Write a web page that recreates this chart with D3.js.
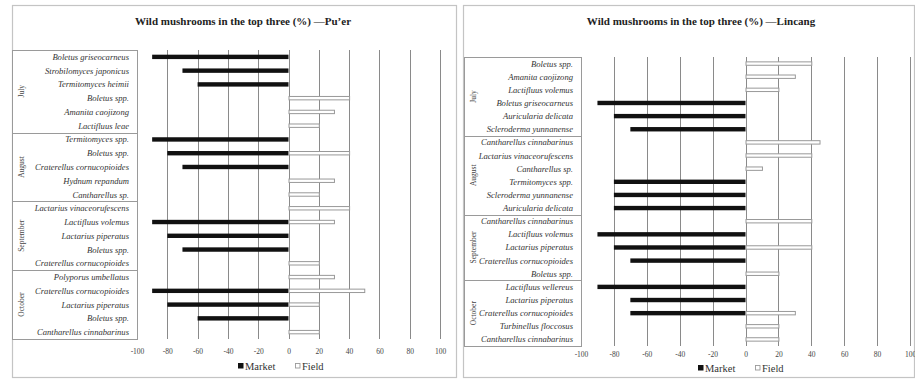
<!DOCTYPE html>
<html>
<head>
<meta charset="utf-8">
<script src="https://cdn.jsdelivr.net/npm/d3@7"></script>
<style>
  html, body { margin: 0; padding: 0; background: #fff; }
  svg { display: block; font-family: "Liberation Serif", "Times New Roman", serif; }
</style>
</head>
<body>
<svg id="chart" width="915" height="380"></svg>
<script>
// Shared axis ticks (percent)
const tickValues = [-100, -80, -60, -40, -20, 0, 20, 40, 60, 80, 100];
const seriesNames = ["Market", "Field"];

// Pu'er: species ranked in the top three per month
const puerMonths = ["July", "August", "September", "October"];
const puerMonthOfRow = [
  "July", "July", "July", "July", "July", "July",
  "August", "August", "August", "August", "August",
  "September", "September", "September", "September", "September",
  "October", "October", "October", "October", "October"
];
const puerSpecies = [
  "Boletus griseocarneus", "Strobilomyces japonicus", "Termitomyces heimii",
  "Boletus spp.", "Amanita caojizong", "Lactifluus leae",
  "Termitomyces spp.", "Boletus spp.", "Craterellus cornucopioides",
  "Hydnum repandum", "Cantharellus sp.",
  "Lactarius vinaceorufescens", "Lactifluus volemus", "Lactarius piperatus",
  "Boletus spp.", "Craterellus cornucopioides",
  "Polyporus umbellatus", "Craterellus cornucopioides", "Lactarius piperatus",
  "Boletus spp.", "Cantharellus cinnabarinus"
];
const puerMarket = [-90, -70, -60, 0, 0, 0, -90, -80, -70, 0, 0, 0, -90, -80, -70, 0, 0, -90, -80, -60, 0];
const puerField  = [0, 0, 0, 40, 30, 20, 0, 40, 0, 30, 20, 40, 30, 0, 0, 20, 30, 50, 20, 0, 20];

// Lincang: species ranked in the top three per month
const lincangMonths = ["July", "August", "September", "October"];
const lincangMonthOfRow = [
  "July", "July", "July", "July", "July", "July",
  "August", "August", "August", "August", "August", "August",
  "September", "September", "September", "September", "September",
  "October", "October", "October", "October", "October"
];
const lincangSpecies = [
  "Boletus spp.", "Amanita caojizong", "Lactifluus volemus",
  "Boletus griseocarneus", "Auricularia delicata", "Scleroderma yunnanense",
  "Cantharellus cinnabarinus", "Lactarius vinaceorufescens", "Cantharellus sp.",
  "Termitomyces spp.", "Scleroderma yunnanense", "Auricularia delicata",
  "Cantharellus cinnabarinus", "Lactifluus volemus", "Lactarius piperatus",
  "Craterellus cornucopioides", "Boletus spp.",
  "Lactifluus vellereus", "Lactarius piperatus", "Craterellus cornucopioides",
  "Turbinellus floccosus", "Cantharellus cinnabarinus"
];
const lincangMarket = [0, 0, 0, -90, -80, -70, 0, 0, 0, -80, -80, -80, 0, -90, -80, -70, 0, -90, -70, -70, 0, 0];
const lincangField  = [40, 30, 20, 0, 0, 0, 45, 40, 10, 0, 0, 0, 40, 0, 40, 0, 20, 0, 0, 30, 20, 20];

const svg = d3.select("#chart");
const FONT = "Liberation Serif, Times New Roman, serif";

function drawPanel(cfg) {
  const g = svg.append("g");
  const rows = cfg.species.map((s, i) => ({
    i, species: s, month: cfg.monthOfRow[i], market: cfg.market[i], field: cfg.field[i]
  }));

  // outer frame
  g.append("rect")
    .attr("x", cfg.frame[0] + 0.5).attr("y", cfg.frame[1] + 0.5)
    .attr("width", cfg.frame[2] - cfg.frame[0]).attr("height", cfg.frame[3] - cfg.frame[1])
    .attr("fill", "none").attr("stroke", "#c4c4c4").attr("stroke-width", 1.2);

  // title
  g.append("text")
    .attr("x", cfg.titleX).attr("y", 25)
    .attr("text-anchor", "middle")
    .attr("font-size", 11).attr("font-weight", "bold").attr("fill", "#222")
    .text(cfg.title);

  const x = d3.scaleLinear().domain([-100, 100]).range([cfg.x0, cfg.x1]);
  const y = d3.scaleBand().domain(rows.map(r => r.i)).range([cfg.y0, cfg.y1]);

  // vertical gridlines
  g.append("g").selectAll("line").data(tickValues).join("line")
    .attr("x1", d => Math.round(x(d)) + 0.5).attr("x2", d => Math.round(x(d)) + 0.5)
    .attr("y1", cfg.y0).attr("y2", cfg.y1)
    .attr("stroke", "#8a8a8a").attr("stroke-width", 1);

  // tick labels along the bottom
  const axis = d3.axisBottom(x).tickValues(tickValues).tickSize(0).tickPadding(0)
    .tickFormat(d => d < 0 ? "-" + Math.abs(d) : String(d));
  const ax = g.append("g").attr("transform", `translate(0,${cfg.tickY})`).call(axis)
    .attr("font-family", FONT);
  ax.select(".domain").remove();
  ax.selectAll("text").attr("font-size", 7.5).attr("fill", "#444").attr("dy", 0);

  const barH = 4.4;
  // market bars (negative side)
  g.append("g").selectAll("rect").data(rows.filter(r => r.market !== 0)).join("rect")
    .attr("x", d => x(d.market)).attr("width", d => x(0) - x(d.market))
    .attr("y", d => y(d.i) + y.bandwidth() / 2 - barH / 2).attr("height", barH)
    .attr("fill", "#111");
  // field bars (positive side, hollow)
  g.append("g").selectAll("rect").data(rows.filter(r => r.field !== 0)).join("rect")
    .attr("x", x(0) + 0.5).attr("width", d => x(d.field) - x(0))
    .attr("y", d => y(d.i) + y.bandwidth() / 2 - barH / 2 + 0.5).attr("height", barH - 1)
    .attr("fill", "#fff").attr("stroke", "#999").attr("stroke-width", 1);

  // category label box
  g.append("rect")
    .attr("x", cfg.boxX + 0.5).attr("y", cfg.y0 + 0.5)
    .attr("width", x(-100) - cfg.boxX).attr("height", cfg.y1 - cfg.y0)
    .attr("fill", "#fff").attr("stroke", "#9a9a9a").attr("stroke-width", 1);

  g.append("g").selectAll("text").data(rows).join("text")
    .attr("x", x(-100) - 8).attr("y", d => y(d.i) + y.bandwidth() / 2)
    .attr("dy", "0.35em").attr("text-anchor", "end")
    .attr("font-size", 8.6).attr("font-style", "italic").attr("fill", "#333")
    .text(d => d.species);

  // month groups: separators and rotated labels
  cfg.months.forEach((m, k) => {
    const idx = rows.filter(r => r.month === m).map(r => r.i);
    const top = y(idx[0]);
    const bottom = y(idx[idx.length - 1]) + y.bandwidth();
    if (k > 0) {
      g.append("line")
        .attr("x1", cfg.boxX).attr("x2", x(-100))
        .attr("y1", Math.round(top) + 0.5).attr("y2", Math.round(top) + 0.5)
        .attr("stroke", "#9a9a9a").attr("stroke-width", 1);
    }
    g.append("text")
      .attr("transform", `translate(${cfg.monthX},${(top + bottom) / 2}) rotate(-90)`)
      .attr("text-anchor", "middle").attr("dy", "0.35em")
      .attr("font-size", 7.5).attr("fill", "#444")
      .text(m);
  });

  // legend
  const lg = g.append("g").attr("transform", `translate(${cfg.legendX},${cfg.legendY})`);
  lg.append("rect").attr("x", 0).attr("y", -3).attr("width", 5.5).attr("height", 5.5).attr("fill", "#111");
  lg.append("text").attr("x", 7).attr("y", 0).attr("dy", "0.35em")
    .attr("font-size", 10.5).attr("fill", "#333").text(seriesNames[0]);
  lg.append("rect").attr("x", 57.5).attr("y", -2.5).attr("width", 4.5).attr("height", 4.5)
    .attr("fill", "#fff").attr("stroke", "#9a9a9a").attr("stroke-width", 0.9);
  lg.append("text").attr("x", 64).attr("y", 0).attr("dy", "0.35em")
    .attr("font-size", 10.5).attr("fill", "#333").text(seriesNames[1]);
}

drawPanel({
  title: "Wild mushrooms in the top three (%) \u2014Pu\u2019er",
  titleX: 243,
  frame: [12, 5, 456, 377],
  boxX: 12, monthX: 21,
  x0: 137, x1: 440, y0: 50, y1: 339,
  tickY: 354, legendX: 238, legendY: 366,
  months: puerMonths, monthOfRow: puerMonthOfRow, species: puerSpecies,
  market: puerMarket, field: puerField
});

drawPanel({
  title: "Wild mushrooms in the top three (%) \u2014Lincang",
  titleX: 701,
  frame: [463, 5, 914, 377],
  boxX: 464, monthX: 473,
  x0: 581, x1: 910, y0: 57, y1: 346,
  tickY: 357, legendX: 698, legendY: 368,
  months: lincangMonths, monthOfRow: lincangMonthOfRow, species: lincangSpecies,
  market: lincangMarket, field: lincangField
});
</script>
</body>
</html>
